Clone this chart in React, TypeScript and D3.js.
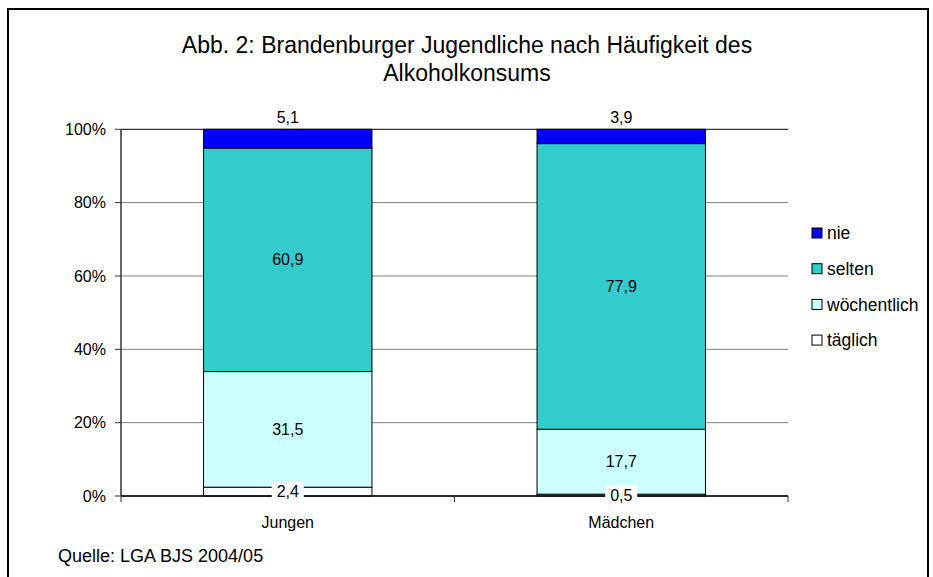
import React from 'react';
import * as d3 from 'd3';

// Data
const categories = ['Jungen', 'Mädchen'];
const seriesKeys = ['täglich', 'wöchentlich', 'selten', 'nie'];
const taeglich = [2.4, 0.5];
const woechentlich = [31.5, 17.7];
const selten = [60.9, 77.9];
const nie = [5.1, 3.9];
const yTicks = [0, 0.2, 0.4, 0.6, 0.8, 1];
const titleLines = ['Abb. 2: Brandenburger Jugendliche nach Häufigkeit des', 'Alkoholkonsums'];
const source = 'Quelle: LGA BJS 2004/05';

const colors: Record<string, string> = {
  'täglich': '#FFFFFF',
  'wöchentlich': '#CCFFFF',
  'selten': '#33CCCC',
  'nie': '#0000FF',
};

const FONT = '"Liberation Sans", Arial, Helvetica, sans-serif';

const App: React.FC = () => {
  const width = 933;
  const height = 577;
  const plot = { left: 121, right: 788, top: 129.3, bottom: 496 };

  const rows = categories.map((c, i) => ({
    cat: c,
    'täglich': taeglich[i],
    'wöchentlich': woechentlich[i],
    'selten': selten[i],
    'nie': nie[i],
  }));

  const stacked = d3.stack<any>()
    .keys(seriesKeys)
    .offset(d3.stackOffsetExpand)(rows);

  const x = d3.scaleBand()
    .domain(categories)
    .range([plot.left, plot.right])
    .paddingInner(0.495)
    .paddingOuter(0.2475);

  const y = d3.scaleLinear().domain([0, 1]).range([plot.bottom, plot.top]);

  const fmt = (v: number) => v.toFixed(1).replace('.', ',');

  const step = x.step();
  const catBounds = d3.range(categories.length + 1).map(i => plot.left + i * step);

  return (
    <>
      <style>{`body{margin:0}`}</style>
      <svg width={width} height={height} style={{ display: 'block', fontFamily: FONT }}>
        <rect x={0} y={0} width={width} height={height} fill="#fff" />
        <rect x={8} y={9} width={920} height={600} fill="none" stroke="#000" strokeWidth={2} />

        {/* title */}
        {titleLines.map((t, i) => (
          <text key={i} x={467} y={53 + i * 28} textAnchor="middle" fontSize={23} fill="#000">{t}</text>
        ))}

        {/* gridlines */}
        {yTicks.map(t => (
          <line key={t} x1={plot.left} x2={plot.right} y1={y(t)} y2={y(t)}
            stroke={t === 1 ? '#000' : '#808080'} strokeWidth={1} />
        ))}

        {/* y axis */}
        <line x1={plot.left} x2={plot.left} y1={plot.top} y2={plot.bottom} stroke="#333" strokeWidth={1.5} />
        {yTicks.map(t => (
          <g key={'yt' + t}>
            <line x1={plot.left - 6} x2={plot.left} y1={y(t)} y2={y(t)} stroke="#333" />
            <text x={plot.left - 15} y={y(t)} dy="0.35em" textAnchor="end" fontSize={16}>{Math.round(t * 100)}%</text>
          </g>
        ))}

        {/* bars */}
        {stacked.map(s => (
          <g key={s.key}>
            {s.map((d, i) => (
              <rect key={i} x={x(categories[i])} y={y(d[1])} width={x.bandwidth()}
                height={y(d[0]) - y(d[1])} fill={colors[s.key]} stroke="#000" strokeWidth={1} />
            ))}
          </g>
        ))}

        {/* x axis */}
        <line x1={plot.left} x2={plot.right} y1={plot.bottom} y2={plot.bottom} stroke="#000" strokeWidth={1.5} />
        {catBounds.map((b, i) => (
          <line key={i} x1={b} x2={b} y1={plot.bottom} y2={plot.bottom + 6} stroke="#333" />
        ))}
        {categories.map(c => (
          <text key={c} x={(x(c) || 0) + x.bandwidth() / 2} y={528} textAnchor="middle" fontSize={16}>{c}</text>
        ))}

        {/* data labels */}
        {stacked.map(s => s.map((d, i) => {
          const cx = (x(categories[i]) || 0) + x.bandwidth() / 2;
          const raw = (rows[i] as any)[s.key] as number;
          const label = fmt(raw);
          if (s.key === 'nie') {
            return <text key={s.key + i} x={cx} y={y(1) - 12} dy="0.35em" textAnchor="middle" fontSize={16}>{label}</text>;
          }
          const cy = y((d[0] + d[1]) / 2);
          if (s.key === 'täglich') {
            return (
              <g key={s.key + i}>
                <rect x={cx - 16} y={cy - 10} width={32} height={20} fill="#fff" />
                <text x={cx} y={cy} dy="0.35em" textAnchor="middle" fontSize={16}>{label}</text>
              </g>
            );
          }
          return <text key={s.key + i} x={cx} y={cy} dy="0.35em" textAnchor="middle" fontSize={16}>{label}</text>;
        }))}

        {/* legend */}
        {seriesKeys.slice().reverse().map((k, i) => (
          <g key={k} transform={`translate(812, ${233 + i * 35.7})`}>
            <rect x={0} y={-5} width={10} height={10} fill={colors[k]} stroke="#000" strokeWidth={1} />
            <text x={15} y={0} dy="0.35em" fontSize={17.5}>{k}</text>
          </g>
        ))}

        {/* source */}
        <text x={58} y={562} fontSize={18}>{source}</text>
      </svg>
    </>
  );
};

export default App;
